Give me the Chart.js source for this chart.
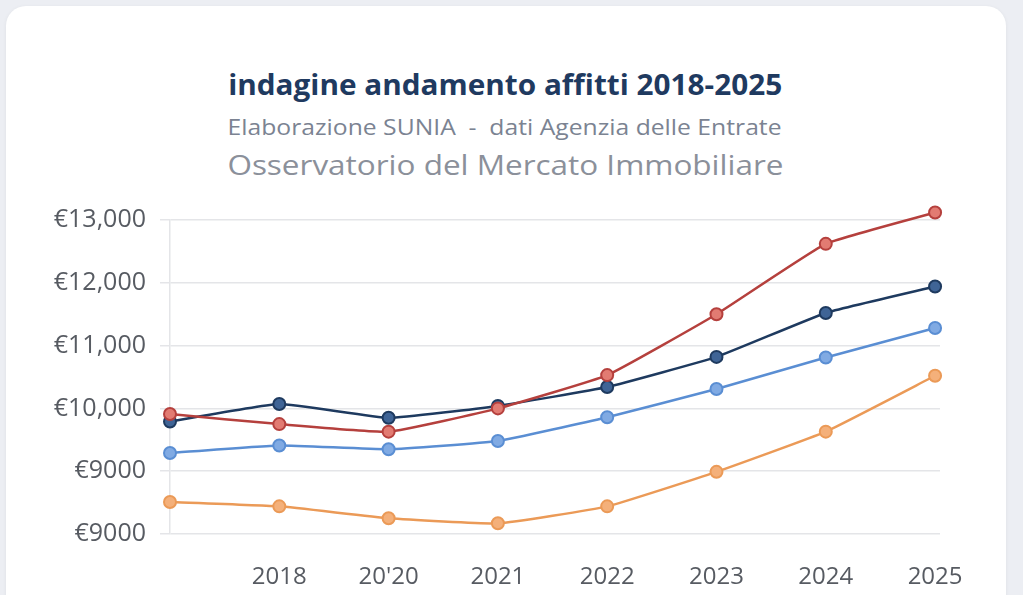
<!DOCTYPE html>
<html>
<head>
<meta charset="utf-8">
<script src="https://cdn.jsdelivr.net/npm/chart.js@4.4.1/dist/chart.umd.min.js"></script>
<style>
  body { margin:0; width:1023px; height:595px; overflow:hidden; background:#eceef3; font-family:"Open Sans", sans-serif; }
  .card { position:absolute; left:6px; top:6px; width:1000px; height:640px; background:#fff; border-radius:20px; box-shadow:0 1px 4px rgba(0,0,0,0.06); }
  .hd { position:absolute; left:0; width:1010px; text-align:center; white-space:nowrap; }
  .hd span { display:inline-block; transform-origin:center; }
  #t1 { top:64px; font-size:29px; font-weight:700; color:#1f3a60; }
  #t2 { top:113px; font-size:21px; color:#7b8392; }
  #t3 { top:145px; font-size:28px; color:#8b909a; }
  canvas { position:absolute; left:0; top:0; }
</style>
</head>
<body>
<div class="card"></div>
<div class="hd" id="t1"><span>indagine andamento affitti 2018-2025</span></div>
<div class="hd" id="t2"><span>Elaborazione SUNIA&nbsp; - &nbsp;dati Agenzia delle Entrate</span></div>
<div class="hd" id="t3"><span>Osservatorio del Mercato Immobiliare</span></div>
<canvas id="chart" width="1023" height="595"></canvas>
<script>
/* ==========================
   DATA
========================== */
const xLabels = ["", "2018", "20'20", "2021", "2022", "2023", "2024", "2025"];
const yTicks = [8000, 9000, 10000, 11000, 12000, 13000];
const yLabels = ["€9000", "€9000", "€10,000", "€11,000", "€12,000", "€13,000"];

const redVals    = [9910, 9750, 9630, 10000, 10530, 11500, 12620, 13120];
const navyVals   = [9790, 10070, 9850, 10040, 10340, 10820, 11520, 11940];
const lightVals  = [9290, 9410, 9350, 9480, 9860, 10310, 10810, 11280];
const orangeVals = [8510, 8440, 8250, 8170, 8440, 8990, 9630, 10520];

/* ==========================
   TITLES (stretch to width)
========================== */
const titleWidths = { t1: 554, t2: 554, t3: 556 };
for (const id in titleWidths) {
    const sp = document.querySelector("#" + id + " span");
    const w = sp.getBoundingClientRect().width;
    sp.style.transform = `scaleX(${titleWidths[id] / w})`;
}

/* ==========================
   CHART
========================== */
const toPts = vals => vals.map((v, i) => ({ x: i, y: v }));

function series(vals, line, fill) {
    return {
        data: toPts(vals),
        borderColor: line,
        backgroundColor: fill,
        pointBackgroundColor: fill,
        pointBorderColor: line,
        pointRadius: 6,
        pointBorderWidth: 2,
        borderWidth: 2.5,
        tension: 0.12,
        clip: false
    };
}

new Chart(document.getElementById("chart"), {
    type: "line",
    data: {
        datasets: [
            series(redVals, "#b5403d", "#e27b72"),
            series(navyVals, "#1e3a5f", "#3f6496"),
            series(lightVals, "#5a8ed3", "#80aae3"),
            series(orangeVals, "#eb9a57", "#f4b07a")
        ]
    },
    options: {
        responsive: false,
        animation: false,
        layout: { padding: { top: 220, right: 83, bottom: 0, left: 0 } },
        plugins: { legend: { display: false }, tooltip: { enabled: false } },
        scales: {
            x: {
                type: "linear",
                min: 0,
                max: 7.045,
                afterBuildTicks: s => { s.ticks = xLabels.map((_, i) => ({ value: i })); },
                afterFit: s => { s.height = 61; },
                grid: { display: false, drawTicks: false },
                border: { display: false },
                ticks: {
                    padding: 29,
                    color: "#575b62",
                    font: { family: "Open Sans", size: 24 },
                    maxRotation: 0,
                    autoSkip: false,
                    callback: v => xLabels[v]
                }
            },
            y: {
                min: 8000,
                max: 13000,
                afterBuildTicks: s => { s.ticks = yTicks.map(v => ({ value: v })); },
                afterFit: s => { s.width = 170; },
                grid: { color: "#e4e5e8", lineWidth: 1.5, tickLength: 10 },
                border: { display: true, color: "#e4e5e8", width: 1.5 },
                ticks: {
                    padding: 14,
                    color: "#575b62",
                    font: { family: "Open Sans", size: 25 },
                    callback: (v, i) => yLabels[i]
                }
            }
        }
    }
});
</script>
</body>
</html>
